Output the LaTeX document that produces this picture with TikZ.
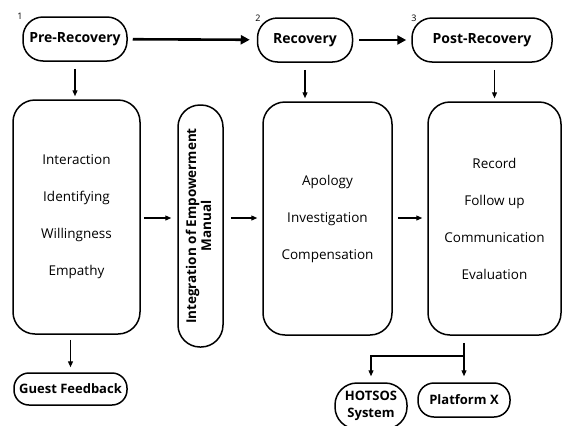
\documentclass[tikz,border=0pt]{standalone}
\usepackage{fontspec}
\setmainfont{Open Sans}
\usepackage{graphicx}
\usetikzlibrary{arrows.meta}
\tikzset{
  stage/.style={draw, line width=1.5pt, rounded corners=20pt, font=\fontsize{14}{16}\selectfont\bfseries, align=center},
  endbox/.style={stage, font=\fontsize{13}{17}\selectfont\bfseries},
  phasebox/.style={draw, line width=1.5pt, rounded corners=22pt, align=center, font=\fontsize{13.5}{37}\selectfont},
  num/.style={font=\fontsize{9}{10}\selectfont},
  flow/.style={line width=1.2pt, -{Triangle[length=6pt,width=5pt]}},
  bigflow/.style={line width=2.6pt, -{Triangle[length=9pt,width=9pt]}}
}
\begin{document}
\begin{tikzpicture}[x=1pt,y=-1pt]
\tikzstyle{every node}+=[inner sep=0pt]
\useasboundingbox (0,0) rectangle (563,426);
% top row
\node [stage, minimum width=104pt, minimum height=44pt] (pre) at (75,39) {Pre-Recovery};
\node [stage, minimum width=95pt, minimum height=44pt] (rec) at (305,40) {Recovery};
\node [stage, minimum width=140pt, minimum height=44pt] (post) at (482,40) {Post-Recovery};
\node [num] (n1) at (20,16) {1};
\node [num] (n2) at (258,18) {2};
\node [num] (n3) at (414,18) {3};
% boxes
\node [phasebox, minimum width=127pt, minimum height=234pt] (prebox) at (76.5,217)
  {Interaction\\Identifying\\Willingness\\Empathy};
\node [draw, line width=1.5pt, rounded corners=22pt, minimum width=45pt, minimum height=242pt,
  font=\fontsize{13.5}{15}\selectfont\bfseries] (manual) at (200.5,226)
  {\rotatebox{90}{\begin{tabular}{@{}c@{}}Integration of Empowerment\\Manual\end{tabular}}};
\node [phasebox, minimum width=129pt, minimum height=233pt] (recbox) at (327.5,218.5)
  {Apology\\Investigation\\Compensation};
\node [phasebox, minimum width=133pt, minimum height=233pt] (postbox) at (494.5,218.5)
  {Record\\Follow up\\Communication\\Evaluation};
% bottom
\node [endbox, minimum width=113pt, minimum height=32pt, rounded corners=15pt] (guest) at (70.5,389) {Guest Feedback};
\node [endbox, minimum width=72pt, minimum height=46pt, rounded corners=22pt] (hotsos) at (371,406) {HOTSOS\\System};
\node [endbox, minimum width=92pt, minimum height=34pt, rounded corners=16pt] (platx) at (464,400) {Platform X};
\coordinate (fork) at (464,356);
% connectors
\draw [bigflow, shorten <=5pt, shorten >=7pt] (pre) -- (rec);
\draw [bigflow, shorten <=6pt, shorten >=5pt] (rec) -- (post);
\draw [flow, shorten <=7pt, shorten >=3pt] (pre.south) -- (pre.south |- prebox.north);
\draw [flow, shorten <=7pt, shorten >=3pt] (rec.south) -- (rec.south |- recbox.north);
\draw [flow, shorten <=7pt, shorten >=3pt] (postbox.north |- post.south) -- (postbox.north);
\draw [flow, shorten <=3pt, shorten >=6pt] (prebox.east |- 0,218) -- (manual.west |- 0,218);
\draw [flow, shorten <=7pt, shorten >=5pt] (manual.east |- 0,218) -- (recbox.west |- 0,218);
\draw [flow, shorten <=5pt, shorten >=5pt] (recbox.east |- 0,218) -- (postbox.west |- 0,218);
\draw [flow, shorten <=5pt, shorten >=5pt] (guest.north |- prebox.south) -- (guest.north);
\draw [flow, shorten <=7pt, shorten >=6pt] (platx.north |- postbox.south) -- (platx.north);
\draw [flow, shorten >=6pt] (fork) -| (hotsos.north);
\end{tikzpicture}
\end{document}
